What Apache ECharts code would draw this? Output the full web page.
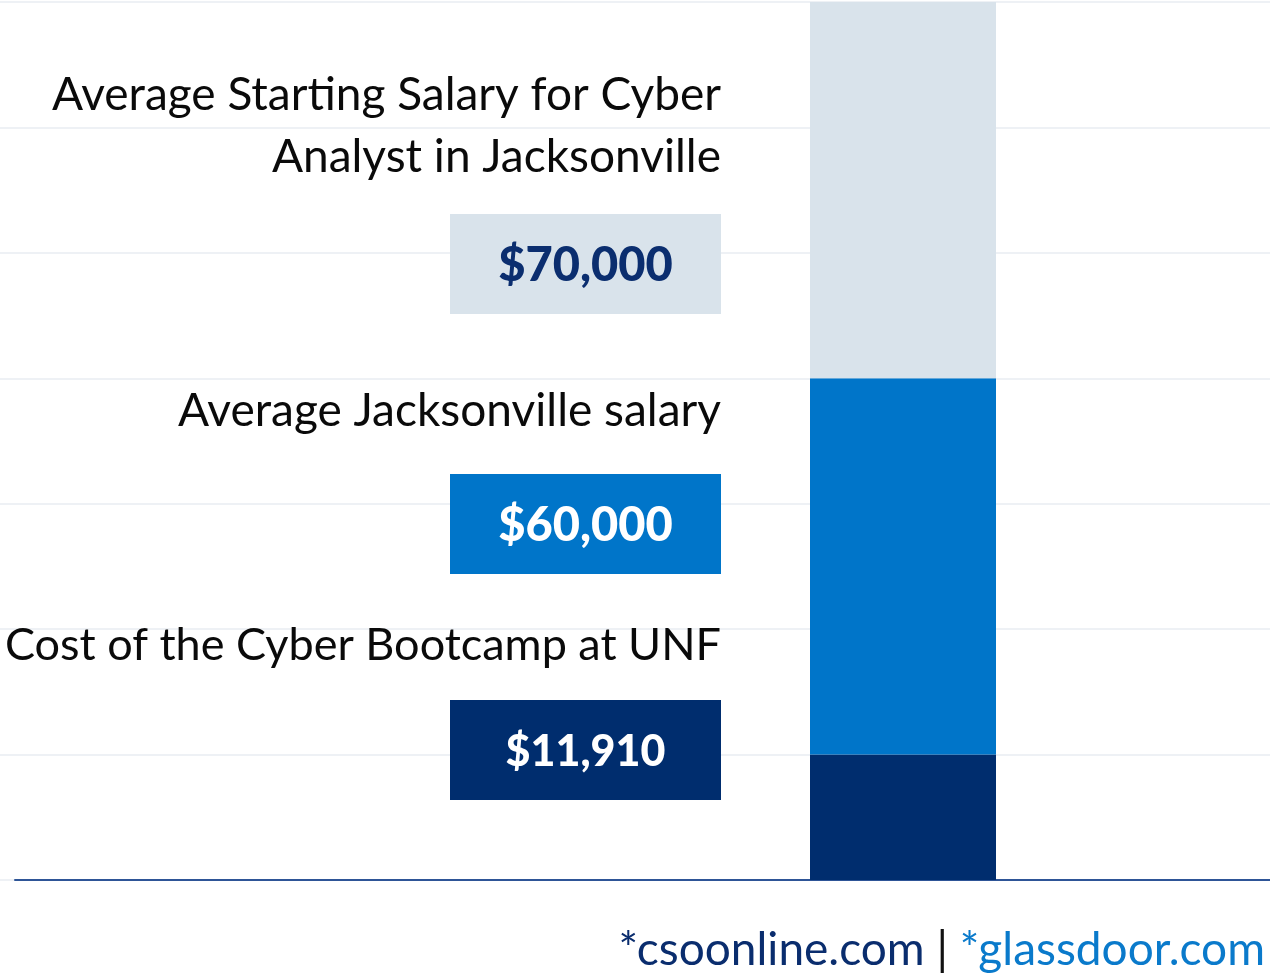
<!DOCTYPE html>
<html>
<head>
<meta charset="utf-8">
<script src="https://cdn.jsdelivr.net/npm/echarts@6/dist/echarts.min.js"></script>
<style>
  html, body { margin: 0; padding: 0; background: #ffffff; }
  #chart { width: 1270px; height: 975px; }
</style>
</head>
<body>
<div id="chart"></div>
<script>
// ---- data ----
const category = ['Salary comparison'];
// stacked segment heights of the single column, in axis units
const segmentNames = ['Cost of the Cyber Bootcamp at UNF', 'Average Jacksonville salary', 'Average Starting Salary for Cyber Analyst in Jacksonville'];
const segmentValues = [10, 30, 30];
const axisTicks = [0, 10, 20, 30, 40, 50, 60, 70];
// annotation texts (top to bottom)
const labelTexts = [
  ['Average Starting Salary for Cyber', 'Analyst in Jacksonville'],
  ['Average Jacksonville salary'],
  ['Cost of the Cyber Bootcamp at UNF']
];
const amountTexts = ['$70,000', '$60,000', '$11,910'];
const sourceTexts = ['*csoonline.com', ' | ', '*glassdoor.com'];

// ---- styles / layout ----
const FONT = 'Lato, "Open Sans", sans-serif';
const segColors = ['#002d6e', '#0075c9', '#d9e3eb'];
const boxColors = ['#d9e3eb', '#0075c9', '#002d6e'];
const boxTextColors = ['#0b2e6f', '#ffffff', '#ffffff'];
const labelSizes = [46, 46, 45];
const amountSizes = [47, 47, 43];
const labelLineY = [[95, 157], [411], [645]];
const boxTop = [214, 474, 700];
const boxLeft = 450, boxW = 271, boxH = 100, textRight = 721;

const chart = echarts.init(document.getElementById('chart'), null, { renderer: 'canvas' });

const graphics = [];
labelTexts.forEach((lines, i) => {
  lines.forEach((t, j) => {
    graphics.push({
      type: 'text', x: textRight, y: labelLineY[i][j], z: 10,
      style: { text: t, fill: '#0a0a0a', font: '400 ' + labelSizes[i] + 'px ' + FONT, textAlign: 'right', textVerticalAlign: 'middle' }
    });
  });
  graphics.push({
    type: 'rect', z: 10, shape: { x: boxLeft, y: boxTop[i], width: boxW, height: boxH },
    style: { fill: boxColors[i] }
  });
  graphics.push({
    type: 'text', z: 11, x: boxLeft + boxW / 2, y: boxTop[i] + boxH / 2 + 2,
    style: { text: amountTexts[i], fill: boxTextColors[i], font: '900 ' + amountSizes[i] + 'px ' + FONT, textAlign: 'center', textVerticalAlign: 'middle' }
  });
});
graphics.push({
  type: 'text', z: 10, x: 1265, y: 950,
  style: {
    text: '{a|' + sourceTexts[0] + '}{b|' + sourceTexts[1] + '}{c|' + sourceTexts[2] + '}',
    textAlign: 'right', textVerticalAlign: 'middle',
    rich: {
      a: { fill: '#0a2d6e', font: '400 46px ' + FONT },
      b: { fill: '#111111', font: '400 46px ' + FONT },
      c: { fill: '#0a7acb', font: '400 46px ' + FONT }
    }
  }
});

const yBase = { type: 'value', min: axisTicks[0], max: axisTicks[axisTicks.length - 1], interval: axisTicks[1] - axisTicks[0] };

chart.setOption({
  backgroundColor: '#ffffff',
  animation: false,
  grid: [
    { left: 0, right: 0, top: 2, bottom: 95 },          // gridlines
    { left: 810, width: 186, top: 2, bottom: 95 },      // the column
    { left: 15, right: 0, top: 2, bottom: 95 }          // baseline
  ],
  xAxis: [
    { gridIndex: 0, type: 'category', data: category, show: false },
    { gridIndex: 1, type: 'category', data: category, show: false },
    { gridIndex: 2, type: 'category', data: category, axisLine: { show: true, lineStyle: { color: '#2e5597', width: 2 } },
      axisTick: { show: false }, axisLabel: { show: false } }
  ],
  yAxis: [
    Object.assign({ gridIndex: 0, axisLabel: { show: false }, axisLine: { show: false }, axisTick: { show: false },
      splitLine: { show: true, lineStyle: { color: '#eef1f5', width: 2 } } }, yBase),
    Object.assign({ gridIndex: 1, show: false, splitLine: { show: false } }, yBase),
    Object.assign({ gridIndex: 2, show: false, splitLine: { show: false } }, yBase)
  ],
  series: segmentNames.map((name, i) => ({
    name, type: 'bar', stack: 'total', xAxisIndex: 1, yAxisIndex: 1,
    barWidth: '100%',
    data: [segmentValues[i]],
    itemStyle: { color: segColors[i] },
    z: 3
  })),
  graphic: graphics
});
</script>
</body>
</html>
